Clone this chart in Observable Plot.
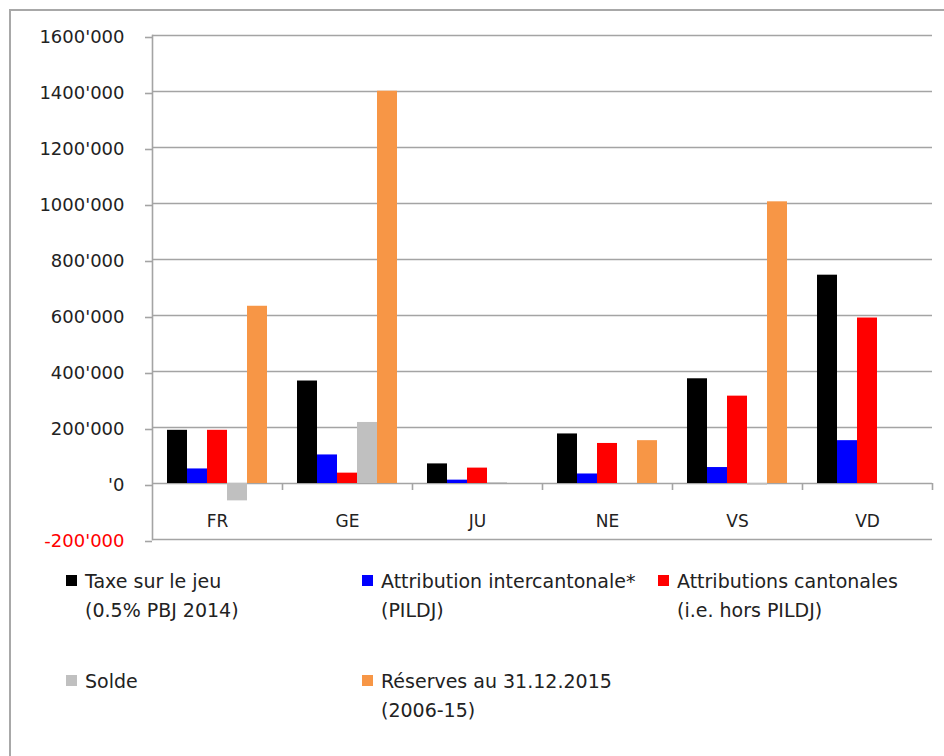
<!DOCTYPE html>
<html><head><meta charset="utf-8">
<script src="https://cdn.jsdelivr.net/npm/d3@7"></script>
<script src="https://cdn.jsdelivr.net/npm/@observablehq/plot@0.6"></script>
<style>
body{margin:0;background:#fff;font-family:"DejaVu Sans",sans-serif;}
#wrap{position:relative;width:944px;height:756px;overflow:hidden;background:#fff;}
#border{position:absolute;left:9px;top:9px;width:1000px;height:1000px;border-left:2px solid #a8a8a8;border-top:2px solid #a8a8a8;}
#chart{position:absolute;left:0;top:0;}
.item{position:absolute;font-size:19px;color:#222;line-height:29px;white-space:nowrap;}
.sw{position:absolute;width:11px;height:11px;}
</style></head><body>
<div id="wrap"><div id="border"></div><div id="chart"></div><div id="legend"></div></div>
<script>
const cantons = ["FR", "GE", "JU", "NE", "VS", "VD"];
const series = ["Taxe sur le jeu (0.5% PBJ 2014)", "Attribution intercantonale* (PILDJ)", "Attributions cantonales (i.e. hors PILDJ)", "Solde", "Réserves au 31.12.2015 (2006-15)"];
const legendLines = [["Taxe sur le jeu", "(0.5% PBJ 2014)"], ["Attribution intercantonale*", "(PILDJ)"], ["Attributions cantonales", "(i.e. hors PILDJ)"], ["Solde"], ["Réserves au 31.12.2015", "(2006-15)"]];
const colors = ["#000000", "#0000ff", "#ff0000", "#c0c0c0", "#f79646"];
const taxe = [190000, 366000, 70000, 177000, 374000, 744000];
const intercantonale = [52000, 102000, 12000, 34000, 57000, 153000];
const cantonales = [190000, 37000, 55000, 143000, 312000, 591000];
const solde = [-62000, 218000, 3000, 0, -6000, 0];
const reserves = [633000, 1401000, 0, 153000, 1006000, 0];
const yTicks = [-200000, 0, 200000, 400000, 600000, 800000, 1000000, 1200000, 1400000, 1600000];

const values = [taxe, intercantonale, cantonales, solde, reserves];
const rows = [];
cantons.forEach((c, i) => series.forEach((s, j) => rows.push({canton: c, series: s, value: values[j][i]})));

const fmt = d => d === 0 ? "'0" : (d / 1000) + "'000";
const gridColor = "#a4a4a4";

const chart = Plot.plot({
  width: 944, height: 560,
  marginTop: 35, marginBottom: 21, marginLeft: 152, marginRight: 12,
  style: {fontFamily: "DejaVu Sans", fontSize: "18px", color: "#222", background: "transparent"},
  fx: {domain: cantons, padding: 0, label: null},
  x: {domain: series, paddingInner: 0, paddingOuter: 0.75, axis: null},
  y: {domain: [yTicks[0], yTicks[yTicks.length - 1]], axis: null},
  color: {domain: series, range: colors},
  marks: [
    Plot.gridY(yTicks, {stroke: gridColor, strokeOpacity: 1, strokeWidth: 1.6}),
    Plot.axisY(yTicks.filter(d => d >= 0), {tickSize: 7, tickPadding: 21, stroke: gridColor, strokeWidth: 1.6, fill: "#222", tickFormat: fmt, fontSize: 18, dy: 2, label: null}),
    Plot.axisY(yTicks.filter(d => d < 0), {tickSize: 7, tickPadding: 21, stroke: gridColor, strokeWidth: 1.6, fill: "#ff0000", tickFormat: fmt, fontSize: 18, dy: 2, label: null}),
    Plot.frame({anchor: "left", facetAnchor: "left", stroke: gridColor, strokeWidth: 1.6}),
    Plot.ruleX(cantons, {fx: d => d, x: () => series[series.length - 1], y1: 0, y2: -25000, dx: 25, stroke: gridColor, strokeWidth: 1.6}),
    Plot.barY(rows, {fx: "canton", x: "series", y: "value", fill: "series"}),
    Plot.axisFx({anchor: "bottom", tickSize: 0, tickPadding: 0, dy: -25, fontSize: 17, fill: "#222", label: null})
  ]
});
document.getElementById("chart").appendChild(chart);

const legend = document.getElementById("legend");
series.forEach((s, j) => {
  const col = j < 3 ? j : j - 3;
  const row = j < 3 ? 0 : 1;
  const x = 66 + col * 296;
  const y = 575 + row * 100;
  const sw = document.createElement("div");
  sw.className = "sw";
  sw.style.left = x + "px"; sw.style.top = y + "px"; sw.style.background = colors[j];
  legend.appendChild(sw);
  const t = document.createElement("div");
  t.className = "item";
  t.style.left = (x + 19) + "px"; t.style.top = (y - 8) + "px";
  t.innerHTML = legendLines[j].join("<br>");
  legend.appendChild(t);
});
</script>
</body></html>
